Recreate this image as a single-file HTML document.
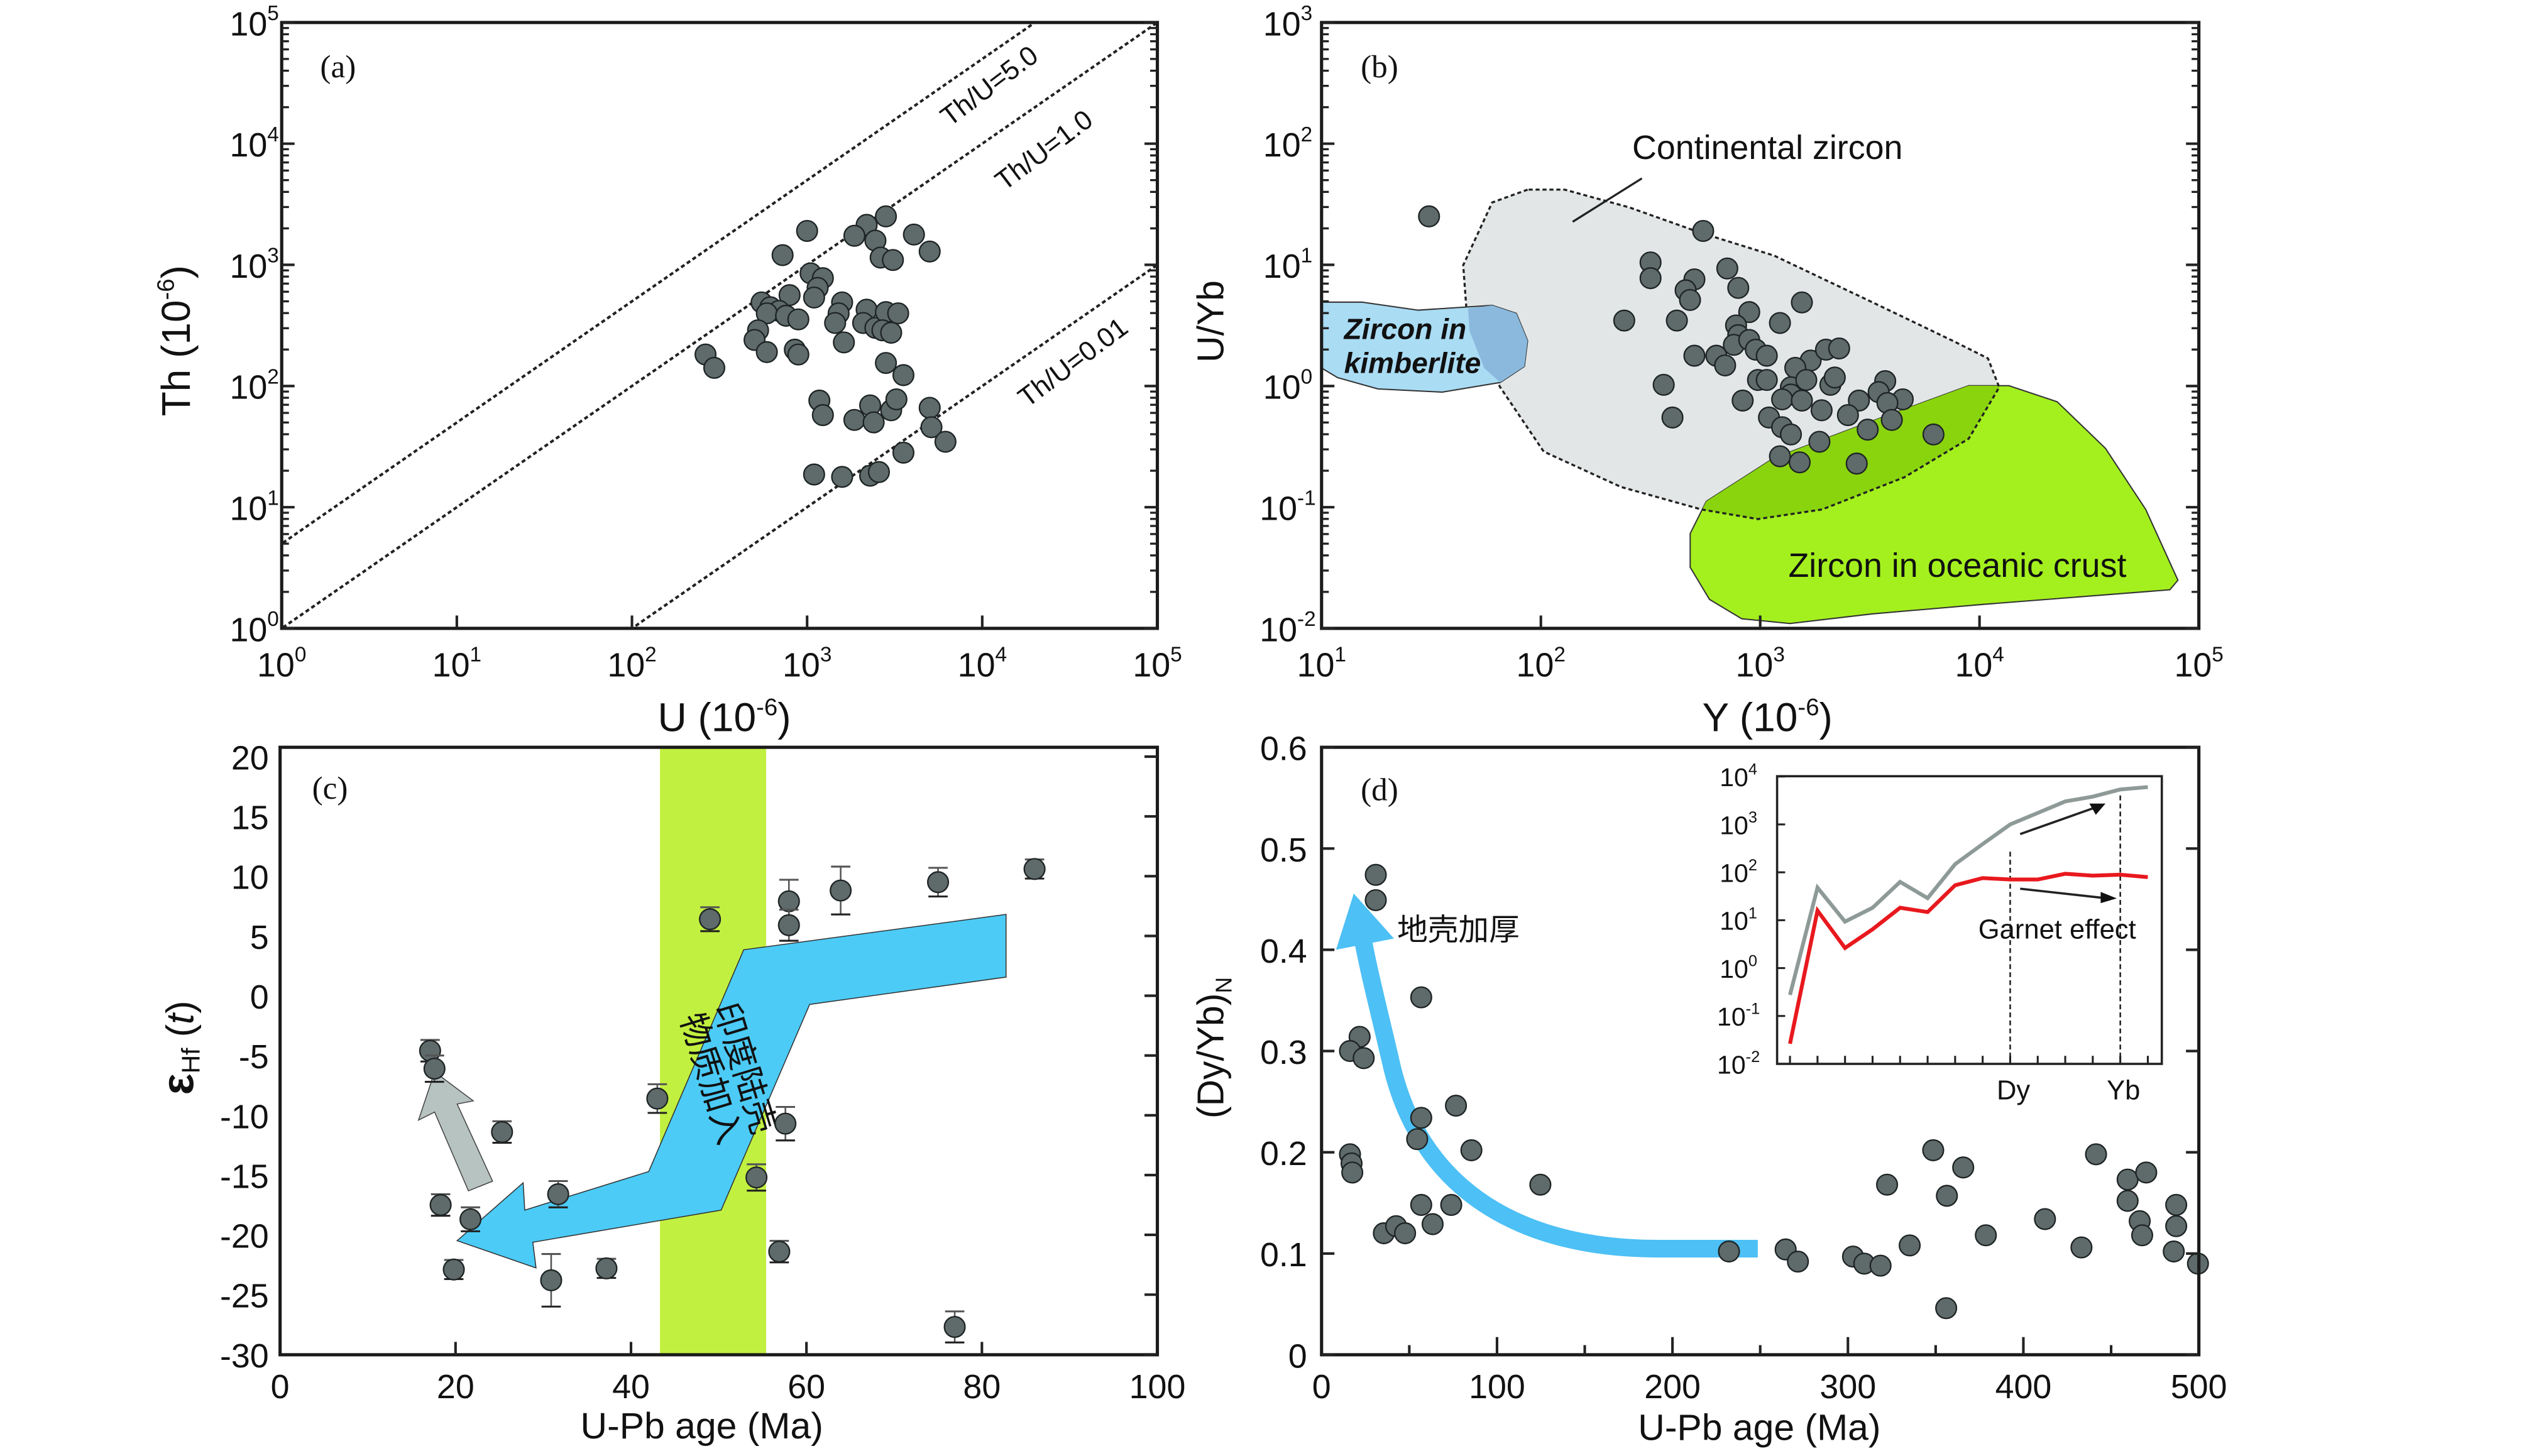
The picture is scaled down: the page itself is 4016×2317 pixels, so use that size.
<!DOCTYPE html>
<html><head><meta charset="utf-8"><style>
html,body{margin:0;padding:0;background:#fff;}
svg{display:block;}
text{font-family:"Liberation Sans","Noto Sans CJK SC",sans-serif;fill:#111;}
.serif{font-family:"Liberation Serif",serif;}
</style></head><body>
<svg id="fig" xmlns="http://www.w3.org/2000/svg" width="4016" height="2317" viewBox="0 0 1568 906" preserveAspectRatio="none">
<defs>
<clipPath id="clipA"><rect x="175" y="14" width="544" height="377"/></clipPath>
<clipPath id="clipOcean"><path d="M1060,312 L1102,285 L1163,262 L1223,240 L1248,240 L1278,250 L1308,279 L1333,317 L1353,361 L1348,367 L1233,376 L1163,382 L1112,388 L1082,385 L1062,373 L1050,353 L1050,332 Z"/></clipPath>
</defs>
</svg>
<script>
// ---------- Panel (a) data: log10 U, log10 Th ----------
const aLogU=[3.00,2.86,3.45,3.34,3.27,3.39,3.61,3.70,3.42,3.49,3.02,3.09,3.06,2.90,2.74,2.79,2.84,2.77,2.88,2.95,2.72,2.70,2.77,2.93,2.95,3.04,3.20,3.18,3.16,3.21,3.34,3.32,3.39,3.45,3.52,3.43,3.48,2.42,2.47,3.07,3.09,3.27,3.36,3.38,3.48,3.51,3.45,3.55,3.70,3.71,3.79,3.55,3.04,3.20,3.36,3.41];
const aLogTh=[3.28,3.08,3.40,3.33,3.24,3.20,3.25,3.11,3.06,3.04,2.93,2.89,2.81,2.75,2.69,2.65,2.62,2.60,2.58,2.55,2.46,2.38,2.28,2.30,2.26,2.73,2.69,2.60,2.52,2.36,2.63,2.52,2.48,2.61,2.60,2.46,2.44,2.26,2.15,1.88,1.76,1.72,1.84,1.70,1.80,1.89,2.19,2.09,1.82,1.66,1.54,1.45,1.27,1.25,1.26,1.29];
const aRatios=[5.0,1.0,0.01];
const aRatioLabels=["Th/U=5.0","Th/U=1.0","Th/U=0.01"];
// ---------- Panel (b) data: log10 Y, log10 U/Yb ----------
const bLogY=[1.49,2.74,2.50,2.50,2.85,2.70,2.90,2.66,2.68,3.19,2.38,2.62,2.95,3.09,2.89,2.90,2.88,2.95,2.98,3.03,2.70,2.80,2.84,3.23,3.30,3.36,2.56,2.99,3.03,3.16,3.14,3.21,3.32,3.34,3.57,3.54,3.14,3.10,3.19,3.45,3.65,2.92,3.58,3.28,3.40,3.60,3.04,3.10,3.14,3.49,3.27,3.79,2.60,3.09,3.18,3.44];
const bLogR=[1.40,1.28,1.02,0.89,0.97,0.88,0.81,0.79,0.71,0.69,0.54,0.54,0.61,0.52,0.50,0.42,0.34,0.38,0.30,0.25,0.25,0.25,0.17,0.21,0.30,0.31,0.01,0.05,0.05,0.15,-0.01,0.05,0.01,0.07,0.04,-0.05,-0.07,-0.11,-0.12,-0.12,-0.11,-0.12,-0.14,-0.20,-0.24,-0.28,-0.26,-0.34,-0.40,-0.36,-0.46,-0.40,-0.26,-0.58,-0.63,-0.64];
// ---------- Panel (c) data ----------
const cAge=[17.1,17.6,18.3,21.7,19.8,25.3,31.7,30.9,37.2,43.0,49.0,54.3,56.9,57.6,58.0,58.0,63.9,75.0,86.0,76.9];
const cEps=[-4.6,-6.1,-17.5,-18.7,-22.9,-11.4,-16.6,-23.8,-22.8,-8.6,6.4,-15.2,-21.4,-10.7,7.9,5.9,8.8,9.5,10.6,-27.7];
const cErr=[0.9,1.1,0.9,1.0,0.8,0.9,1.1,2.2,0.8,1.2,1.0,1.1,0.9,1.4,1.8,1.3,2.0,1.2,0.8,1.3];
const cBand=[43.3,55.4];
const cXTicks=[0,20,40,60,80,100];
const cYTicks=[-30,-25,-20,-15,-10,-5,0,5,10,15,20];
// ---------- Panel (d) data ----------
const dAge=[30.9,30.9,21.7,16.2,24.0,16.2,17.1,17.5,56.8,56.8,54.5,76.6,85.4,124.7,56.8,73.9,63.3,35.5,42.5,47.6,232.2,264.5,271.5,302.9,309.3,318.6,322.3,335.2,348.6,356.4,356.0,365.7,378.6,412.3,433.1,441.4,459.4,459.4,466.3,467.7,470.0,487.1,487.1,485.7,499.5];
const dRatio=[0.474,0.449,0.314,0.300,0.293,0.198,0.189,0.180,0.353,0.234,0.213,0.246,0.202,0.168,0.148,0.148,0.129,0.120,0.127,0.120,0.102,0.104,0.092,0.097,0.090,0.088,0.168,0.108,0.202,0.157,0.046,0.185,0.118,0.134,0.106,0.198,0.173,0.152,0.132,0.118,0.180,0.148,0.127,0.102,0.090];
const dXTicks=[0,100,200,300,400,500];
const dYTicks=[0,0.1,0.2,0.3,0.4,0.5,0.6];
// inset REE patterns (log10 normalized)
const insetGrey=[-0.56,1.68,0.97,1.26,1.80,1.46,2.17,2.59,3.00,3.24,3.48,3.58,3.73,3.78];
const insetRed=[-1.58,1.20,0.42,0.81,1.26,1.17,1.73,1.88,1.85,1.85,1.97,1.93,1.95,1.90];

const NS="http://www.w3.org/2000/svg";
const svg=document.getElementById('fig');
function mk(tag,attrs,parent){const e=document.createElementNS(NS,tag);for(const k in attrs)e.setAttribute(k,attrs[k]);(parent||svg).appendChild(e);return e;}
function txt(x,y,s,size,anchor,parent){const t=mk('text',{x:x,y:y,'font-size':size,'text-anchor':anchor||'start'},parent);t.textContent=s;return t;}
function pow(x,y,exp,size,anchor,parent){const t=mk('text',{x:x,y:y,'font-size':size,'text-anchor':anchor||'middle'},parent);const a=document.createElementNS(NS,'tspan');a.textContent='10';t.appendChild(a);const b=document.createElementNS(NS,'tspan');b.setAttribute('dy',-size*0.45);b.setAttribute('font-size',size*0.62);b.textContent=exp;t.appendChild(b);return t;}
function dot(cx,cy,parent){return mk('circle',{cx:cx,cy:cy,r:6.4,fill:'#5f6a6a',stroke:'#1e2424','stroke-width':0.9},parent);}
function box(x,y,w,h,parent){return mk('rect',{x:x,y:y,width:w,height:h,fill:'none',stroke:'#1a1a1a','stroke-width':2},parent);}
function line(x1,y1,x2,y2,sw,parent,extra){const a={x1:x1,y1:y1,x2:x2,y2:y2,stroke:'#222','stroke-width':sw};for(const k in (extra||{}))a[k]=extra[k];return mk('line',a,parent);}
function logTicks(ymap,lo,hi,xl,xr,parent){for(let d=lo;d<=hi;d++){line(xl,ymap(d),xl+8,ymap(d),1.6,parent);line(xr-8,ymap(d),xr,ymap(d),1.6,parent);if(d<hi){for(let m=2;m<=9;m++){const y=ymap(d+Math.log10(m));line(xl,y,xl+4.5,y,1.3,parent);line(xr-4.5,y,xr,y,1.3,parent);}}}}
function axisTitleSup(x,y,pre,exp,post,size,rot,parent){const t=mk('text',{x:x,y:y,'font-size':size,'text-anchor':'middle'},parent);if(rot)t.setAttribute('transform','rotate(-90 '+x+' '+y+')');const a=document.createElementNS(NS,'tspan');a.textContent=pre;t.appendChild(a);const b=document.createElementNS(NS,'tspan');b.setAttribute('dy',-size*0.4);b.setAttribute('font-size',size*0.6);b.textContent=exp;t.appendChild(b);const c=document.createElementNS(NS,'tspan');c.setAttribute('dy',size*0.4);c.textContent=post;t.appendChild(c);return t;}

// ================= Panel A =================
const gA=mk('g',{});


const xa=l=>175+l*108.8, ya=l=>391-l*75.4;
const gLines=mk('g',{'clip-path':'url(#clipA)'},gA);
aRatios.forEach((r,i)=>{const lr=Math.log10(r);const ln=line(xa(-1),ya(-1+lr),xa(6),ya(6+lr),1.6,gLines,{'stroke-dasharray':'2.5,1.8'});

});
const lblPx=[[618,58],[652,98],[670,230]];
aRatioLabels.forEach((s,i)=>{const x=lblPx[i][0],y=lblPx[i][1];const t=txt(x,y,s,17,'middle',gA);t.setAttribute('transform','rotate(-37 '+x+' '+y+')');

});
aLogU.forEach((u,i)=>{const c=dot(xa(u),ya(aLogTh[i]),gA);

});
box(175,14,544,377,gA);
logTicks(ya,0,5,175,719,gA);
for(let d=1;d<5;d++)line(xa(d),391,xa(d),383,1.6,gA);
for(let d=0;d<=5;d++){const t=pow(xa(d),421,String(d),21,'middle',gA);


const t2=pow(158,ya(d)+8,String(d),21,'middle',gA);

}
const tA=txt(210,48,'(a)',20,'middle',gA);tA.setAttribute('class','serif');


const xtA=axisTitleSup(450,455,'U (10','-6',')',25,false,gA);


const ytA=axisTitleSup(118,212,'Th (10','-6',')',25,true,gA);



// ================= Panel B =================
const gB=mk('g',{});


const xb=l=>821+(l-1)*136.25, yb=l=>391-(l+2)*75.4;
const cont='M949,118 L927,126 L909,165 L912,206 L932,241 L959,281 L1007,303 L1057,317 L1092,323 L1132,317 L1183,297 L1223,273 L1242,241 L1235,223 L1213,212 L1163,188 L1102,159 L1057,145 L1012,129 L972,118 Z';
const ocean='M1060,312 L1102,285 L1163,262 L1223,240 L1248,240 L1278,250 L1308,279 L1333,317 L1353,361 L1348,367 L1233,376 L1163,382 L1112,388 L1082,385 L1062,373 L1050,353 L1050,332 Z';
const pc=mk('path',{d:cont,fill:'#e3e6e6',stroke:'none'},gB);


const po=mk('path',{d:ocean,fill:'#a4f01e',stroke:'#333','stroke-width':0.8},gB);


mk('path',{d:cont,fill:'#8ad40e','clip-path':'url(#clipOcean)'},gB);
mk('path',{d:cont,fill:'none',stroke:'#222','stroke-width':1.3,'stroke-dasharray':'2.5,1.8'},gB);
const pk=mk('path',{d:'M821,188 L846,188 L881,193 L927,190 L942,195 L949,212 L947,228 L932,238 L896,244 L856,242 L831,235 L821,229 Z',fill:'#aadcf4',stroke:'#333','stroke-width':0.8},gB);


mk('path',{d:'M912,192 L927,190 L942,195 L949,212 L947,228 L932,238 L922,229 L913,206 Z',fill:'#8ab9dd'},gB);
bLogY.forEach((v,i)=>{const c=dot(xb(v),yb(bLogR[i]),gB);

});
box(821,14,545,377,gB);
logTicks(yb,-2,3,821,1366,gB);
for(let d=2;d<5;d++)line(xb(d),391,xb(d),383,1.6,gB);
for(let d=1;d<=5;d++){const t=pow(xb(d),421,String(d),21,'middle',gB);

}
for(let d=-2;d<=3;d++){const t=pow(800,yb(d)+8,String(d),21,'middle',gB);

}
const tB=txt(857,48,'(b)',20,'middle',gB);tB.setAttribute('class','serif');


const t1=txt(1098,99,'Continental zircon',21,'middle',gB);


line(1020,111,977,138,1.3,gB);
const t2=txt(835,211,'Zircon in',18,'start',gB);t2.setAttribute('font-weight','bold');t2.setAttribute('font-style','italic');


const t3=txt(835,232,'kimberlite',18,'start',gB);t3.setAttribute('font-weight','bold');t3.setAttribute('font-style','italic');


const t4=txt(1216,359,'Zircon in oceanic crust',21,'middle',gB);


const xtB=axisTitleSup(1098,455,'Y (10','-6',')',25,false,gB);


const ytB=mk('text',{x:760,y:200,'font-size':23,'text-anchor':'middle',transform:'rotate(-90 760 200)'},gB);ytB.textContent='U/Yb';



// ================= Panel C =================
const gC=mk('g',{});


const xc=a=>174+a*5.45, yc=e=>619.6-e*7.44;
const band=mk('rect',{x:xc(cBand[0]),y:465,width:xc(cBand[1])-xc(cBand[0]),height:378,fill:'#c2f040'},gC);


const arr=mk('polygon',{points:'625,569 625,608 503,625 448,753 331,773 333,789 284,772 325,736 326,753 403,729 462,591',fill:'#4ccbf6',stroke:'#333','stroke-width':0.6},gC);


const garr=mk('polygon',{points:'270,667 294,685 284,687 306,735 291,741 270,692 260,697',fill:'#b7c3c1',stroke:'#444','stroke-width':0.6},gC);


const cn=mk('text',{x:0,y:0,'font-size':21,'text-anchor':'middle',transform:'translate(452,668) rotate(73)'},gC);
const cn1=document.createElementNS(NS,'tspan');cn1.setAttribute('x',0);cn1.setAttribute('dy',-4);cn1.textContent='印度陆壳';cn.appendChild(cn1);
const cn2=document.createElementNS(NS,'tspan');cn2.setAttribute('x',0);cn2.setAttribute('dy',22);cn2.textContent='物质加入';cn.appendChild(cn2);


cAge.forEach((a,i)=>{const x=xc(a),y=yc(cEps[i]);const yt=yc(cEps[i]+cErr[i]),yb2=yc(cEps[i]-cErr[i]);
line(x,yt,x,yb2,1,gC,{stroke:'#555'});line(x-6,yt,x+6,yt,1.2,gC,{stroke:'#555'});line(x-6,yb2,x+6,yb2,1.2,gC,{stroke:'#222'});
const c=dot(x,y,gC);

});
box(174,465,545,378,gC);
cYTicks.forEach(v=>{line(711,yc(v),719,yc(v),1.6,gC);const t=txt(167,yc(v)+8,String(v),21,'end',gC);

});
cXTicks.forEach(v=>{if(v>0&&v<100)line(xc(v),843,xc(v),835,1.6,gC);const t=txt(xc(v),870,String(v),21,'middle',gC);

});
const tC=txt(205,497,'(c)',20,'middle',gC);tC.setAttribute('class','serif');


const xtC=txt(436,895,'U-Pb age (Ma)',23,'middle',gC);


const ytC=mk('text',{x:120,y:652,'font-size':24,'text-anchor':'middle',transform:'rotate(-90 120 652)'},gC);
const e1=document.createElementNS(NS,'tspan');e1.setAttribute('font-weight','bold');e1.setAttribute('font-size',28);e1.textContent='ε';ytC.appendChild(e1);
const e2=document.createElementNS(NS,'tspan');e2.setAttribute('font-size',16);e2.setAttribute('dy',4);e2.textContent='Hf';ytC.appendChild(e2);
const e3=document.createElementNS(NS,'tspan');e3.setAttribute('dy',-4);e3.textContent=' (';ytC.appendChild(e3);
const e4=document.createElementNS(NS,'tspan');e4.setAttribute('font-style','italic');e4.textContent='t';ytC.appendChild(e4);
const e5=document.createElementNS(NS,'tspan');e5.textContent=')';ytC.appendChild(e5);



// ================= Panel D =================
const gD=mk('g',{});


const xd=a=>821+a*1.09, yd=v=>843-v*630;
const curve=mk('path',{d:'M1092,777 L1030,777 C950,777 885,745 865,665 C857,630 849,600 845,575',fill:'none',stroke:'#4dc0f5','stroke-width':11},gD);


mk('polygon',{points:'841,556 830,591 866,584',fill:'#4dc0f5'},gD);
dAge.forEach((a,i)=>{const c=dot(xd(a),yd(dRatio[i]),gD);

});
box(821,465,545,378,gD);
dYTicks.forEach(v=>{line(821,yd(v),829,yd(v),1.6,gD);line(1358,yd(v),1366,yd(v),1.6,gD);const t=txt(812,yd(v)+8,String(v),21,'end',gD);

});
for(let a=50;a<500;a+=50)line(xd(a),843,xd(a),a%100?837:832,1.6,gD);
dXTicks.forEach(v=>{const t=txt(xd(v),870,String(v),21,'middle',gD);

});
const tD=txt(857,498,'(d)',20,'middle',gD);tD.setAttribute('class','serif');


const thick=txt(868,585,'地壳加厚',19,'start',gD);


const xtD=txt(1093,896,'U-Pb age (Ma)',23,'middle',gD);


const ytD=mk('text',{x:760,y:652,'font-size':23,'text-anchor':'middle',transform:'rotate(-90 760 652)'},gD);
const d1=document.createElementNS(NS,'tspan');d1.textContent='(Dy/Yb)';ytD.appendChild(d1);
const d2=document.createElementNS(NS,'tspan');d2.setAttribute('font-size',14);d2.setAttribute('dy',5);d2.textContent='N';ytD.appendChild(d2);



// ---- inset ----
const gI=mk('g',{},gD);


const xi=i=>1112+i*17.1, yi=l=>662-(l+2)*29.8;
mk('rect',{x:1104,y:483,width:239,height:179,fill:'#fff',stroke:'#222','stroke-width':1.4},gI);
for(let l=-2;l<=4;l++){line(1104,yi(l),1109,yi(l),1.2,gI);const t=pow(1080,yi(l)+6,String(l),16,'middle',gI);

}
for(let i=0;i<14;i++)line(xi(i),662,xi(i),657,1.2,gI);
line(xi(8),530,xi(8),662,1,gI,{'stroke-dasharray':'3,2'});
line(xi(12),495,xi(12),662,1,gI,{'stroke-dasharray':'3,2'});
const gp=mk('polyline',{points:insetGrey.map((v,i)=>xi(i)+','+yi(v)).join(' '),fill:'none',stroke:'#8e9a98','stroke-width':2.4},gI);


const rp=mk('polyline',{points:insetRed.map((v,i)=>xi(i)+','+yi(v)).join(' '),fill:'none',stroke:'#e8191e','stroke-width':2.4},gI);


line(1255,519,1303,502,1.4,gI);mk('polygon',{points:'1308,500 1298,500 1302,507',fill:'#111'},gI);
line(1255,553,1309,559,1.4,gI);mk('polygon',{points:'1315,559 1305,555 1305,562',fill:'#111'},gI);
const ge=txt(1278,584,'Garnet effect',17,'middle',gI);


const ldy=txt(xi(8)+2,684,'Dy',17,'middle',gI);


const lyb=txt(xi(12)+2,684,'Yb',17,'middle',gI);


</script>
</body></html>
